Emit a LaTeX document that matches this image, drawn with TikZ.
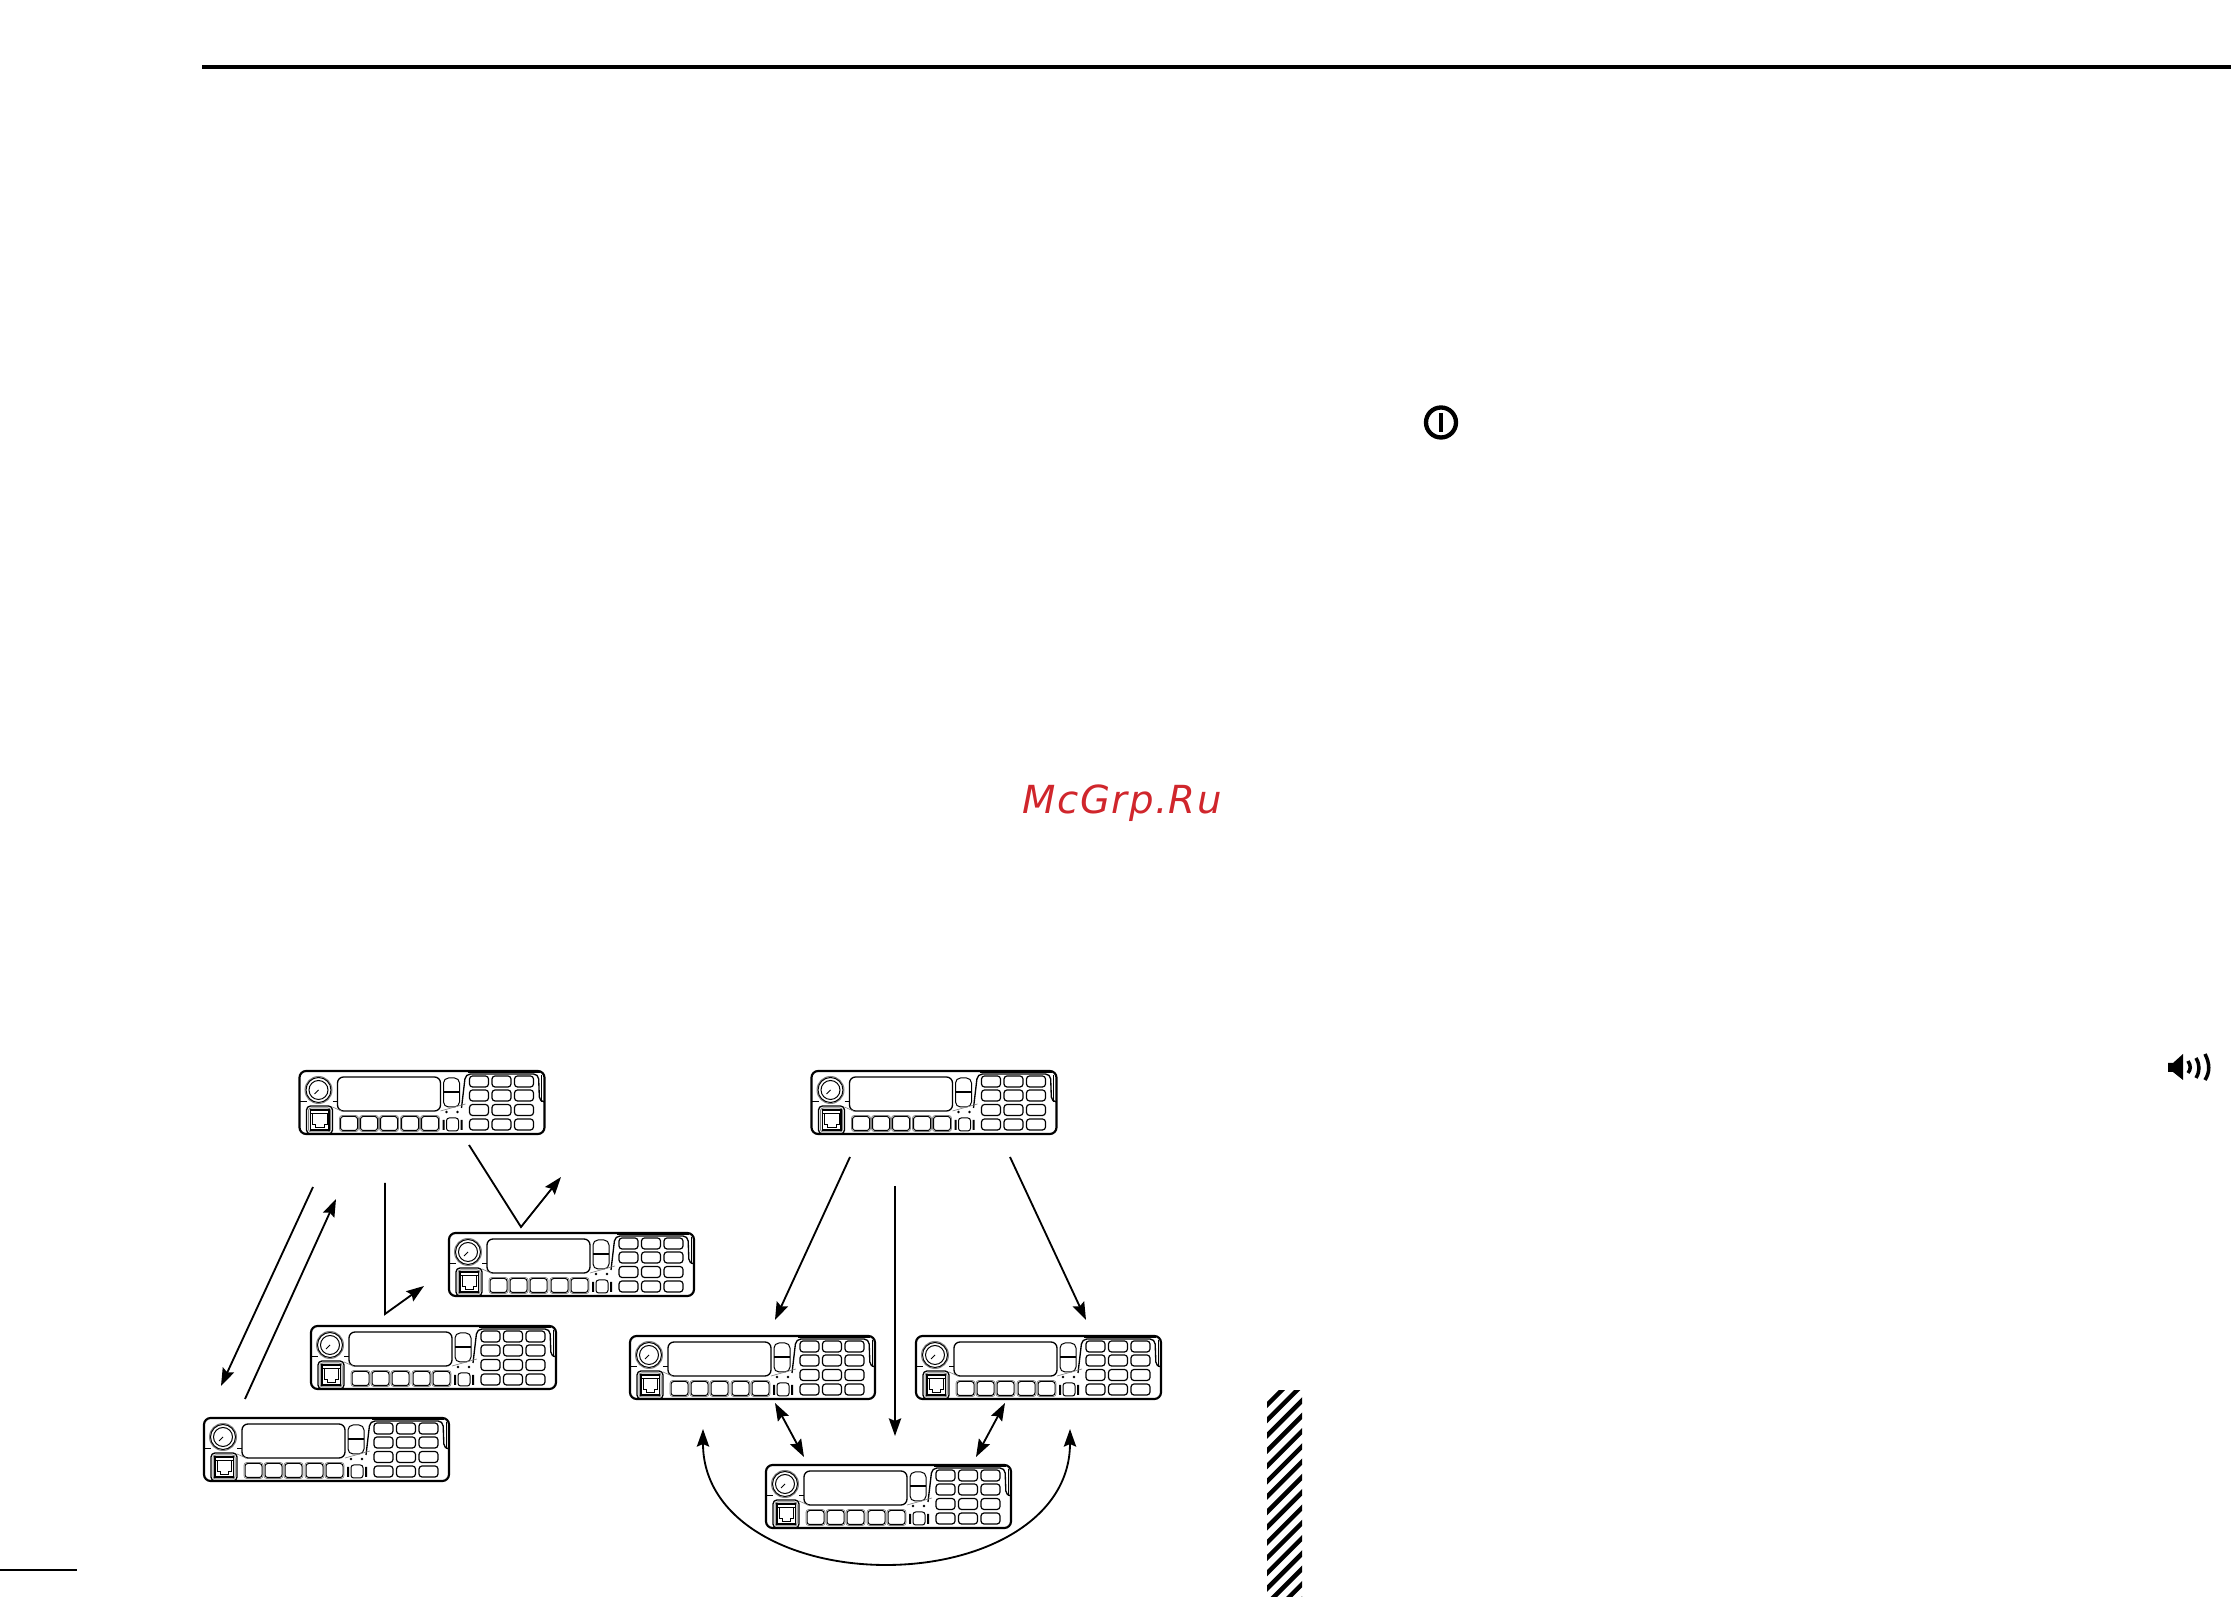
\documentclass[tikz,border=0pt]{standalone}
\usepackage{fontspec}
\newfontfamily\markfont[LetterSpace=3.8]{DejaVu Sans}
\usepackage{tikz}
\usetikzlibrary{arrows.meta, calc, positioning}
\definecolor{markred}{RGB}{208,38,44}
\tikzstyle{radiobody} = [draw=black, line width=0.65pt, rounded corners=2pt, minimum width=73.5pt, minimum height=18.9pt, inner sep=0pt, outer sep=0pt]
\tikzstyle{radioline} = [draw=black, line width=0.3pt]
\tikzstyle{callarrow} = [line width=0.55pt, ->, >={Stealth[length=5.3pt, width=3.7pt, inset=0.8pt]}]
\tikzstyle{bothways} = [line width=0.55pt, <->, >={Stealth[length=5.3pt, width=3.7pt, inset=0.8pt]}]
\tikzstyle{iconline} = [line width=1.05pt, line cap=butt]
\newcommand{\radiounit}[3]{
	\node (#1) [radiobody, anchor=north west] at (#2,#3) {};
	\begin{scope}[shift={(#2,#3)}, radioline]
		\draw[gray] (19,19) circle [radius=13.5];
		\draw (19,19) circle [radius=12.5];
		\draw (19,19) circle [radius=9.5];
		\draw (15,23) -- (19,19);
		\draw (0,31) -- (7,31) (33,31) -- (38,31);
		\draw[line width=0.4pt, rounded corners=1.8pt] (38,6) rectangle (141,40);
		\draw[rounded corners=1.5pt] (144,7) rectangle (160,36);
		\draw (144,20.5) -- (160,20.5) (144,22) -- (160,22);
		\draw[line width=0.4pt, rounded corners=1.2pt] (7,35) rectangle (33,63);
		\draw[gray, rounded corners=0.8pt] (9,37) rectangle (31,61);
		\draw[line width=0.4pt] (11,39) rectangle (29.5,59);
		\draw (11,43) -- (29.5,43) (13,43) -- (13,54) -- (16,54) -- (16,57) -- (24.5,57) -- (24.5,54) -- (27.5,54) -- (27.5,43);
		\foreach \kx in {41,61,81,102,122} {
			\draw[rounded corners=0.8pt] (\kx,45.5) rectangle ++(17,14);
			\draw[gray, line width=0.2pt, rounded corners=0.8pt] (\kx-1,44.5) rectangle ++(19,16);
		}
		\fill (147,41) circle [radius=1.3] (158,41) circle [radius=1.3];
		\draw[rounded corners=0.8pt] (147,47) rectangle (159,60);
		\fill (143,49) rectangle (145,59) (161,49) rectangle (163,59);
		\foreach \kx in {170,192.5,215} {
			\foreach \ky in {5,19,33.5,48} {
				\draw[line width=0.36pt, rounded corners=0.9pt] (\kx,\ky) rectangle ++(19,11);
			}
		}
		\draw[line width=0.4pt, rounded corners=1.5pt] (162,37) -- (166,3) -- (239,3) -- (240,31) -- (245,31);
		\draw (168,1.5) -- (240,1.5) (242,4) -- (242,31);
		\draw[gray, line width=0.2pt] (33,36) -- (42,40) (141,40) -- (166,33);
	\end{scope}
}
\begin{document}
\begin{tikzpicture}[x=0.3pt, y=-0.3pt]
	\path[use as bounding box] (0,0) rectangle (2231,1597);
	\radiounit{RadioTopL}{299.5}{1071}
	\radiounit{RadioFar}{449}{1233}
	\radiounit{RadioMid}{311}{1326}
	\radiounit{RadioLow}{204}{1418}
	\radiounit{RadioTopR}{811.5}{1071}
	\radiounit{RadioSideL}{630}{1336}
	\radiounit{RadioSideR}{916}{1336}
	\radiounit{RadioBase}{766}{1465}
	\coordinate (RuleL) at (202,67);
	\coordinate (RuleR) at (2231,67);
	\coordinate (FootL) at (0,1570);
	\coordinate (FootR) at (77,1570);
	\coordinate (DownS) at (313,1187);
	\coordinate (DownE) at (221,1386);
	\coordinate (UpS) at (245,1399);
	\coordinate (UpE) at (336,1199);
	\coordinate (MidS) at (385,1183);
	\coordinate (MidK) at (385,1314);
	\coordinate (MidE) at (424,1286);
	\coordinate (FarS) at (469,1145);
	\coordinate (FarK) at (521,1227);
	\coordinate (FarE) at (561,1177);
	\coordinate (FanLS) at (850,1157);
	\coordinate (FanLE) at (775,1320);
	\coordinate (FanMS) at (895,1186);
	\coordinate (FanME) at (895,1436);
	\coordinate (FanRS) at (1010,1157);
	\coordinate (FanRE) at (1086,1320);
	\coordinate (LinkLA) at (775,1403);
	\coordinate (LinkLB) at (804,1457);
	\coordinate (LinkRA) at (1005,1403);
	\coordinate (LinkRB) at (976,1457);
	\coordinate (LoopL) at (703,1429);
	\coordinate (LoopB) at (886,1565);
	\coordinate (LoopR) at (1070,1429);
	\draw[line width=1.1pt] (RuleL) -- (RuleR);
	\draw[line width=0.85pt] (FootL) -- (FootR);
	\draw[callarrow] (DownS) -- (DownE);
	\draw[callarrow] (UpS) -- (UpE);
	\draw[callarrow] (MidS) -- (MidK) -- (MidE);
	\draw[callarrow] (FarS) -- (FarK) -- (FarE);
	\draw[callarrow] (FanLS) -- (FanLE);
	\draw[callarrow] (FanMS) -- (FanME);
	\draw[callarrow] (FanRS) -- (FanRE);
	\draw[bothways] (LinkLA) -- (LinkLB);
	\draw[bothways] (LinkRA) -- (LinkRB);
	\draw[bothways] (LoopL) .. controls (703,1520) and (790,1565) .. (LoopB) .. controls (982,1565) and (1070,1520) .. (LoopR);
	\node (McGrp) [anchor=base west, inner sep=0pt, text=markred] at (1022,814) {\markfont\fontsize{11.6pt}{14pt}\selectfont\itshape McGrp.Ru};
	% hatched strip
	\begin{scope}
		\clip (1267,1391) rectangle (1302,1597);
		\foreach \k in {0,...,15} {
			\draw[line width=1.35pt] (1260,1412+15.3*\k) -- (1310,1362+15.3*\k);
		}
	\end{scope}
	% power symbol
	\draw[line width=1.3pt] (1441,422.5) circle [radius=15];
	\draw[line width=1.05pt] (1441,413) -- (1441,432);
	% speaker symbol
	\fill (2168,1063) -- (2173,1063) -- (2183,1054) -- (2183,1080) -- (2173,1072) -- (2168,1072) -- cycle;
	\draw[iconline] (2188,1061) .. controls (2191,1066) and (2191,1069) .. (2188,1073);
	\draw[iconline] (2196,1058) .. controls (2200,1065) and (2200,1071) .. (2196,1078);
	\draw[iconline] (2205,1054) .. controls (2210,1064) and (2210,1072) .. (2205,1080);
\end{tikzpicture}
\end{document}
